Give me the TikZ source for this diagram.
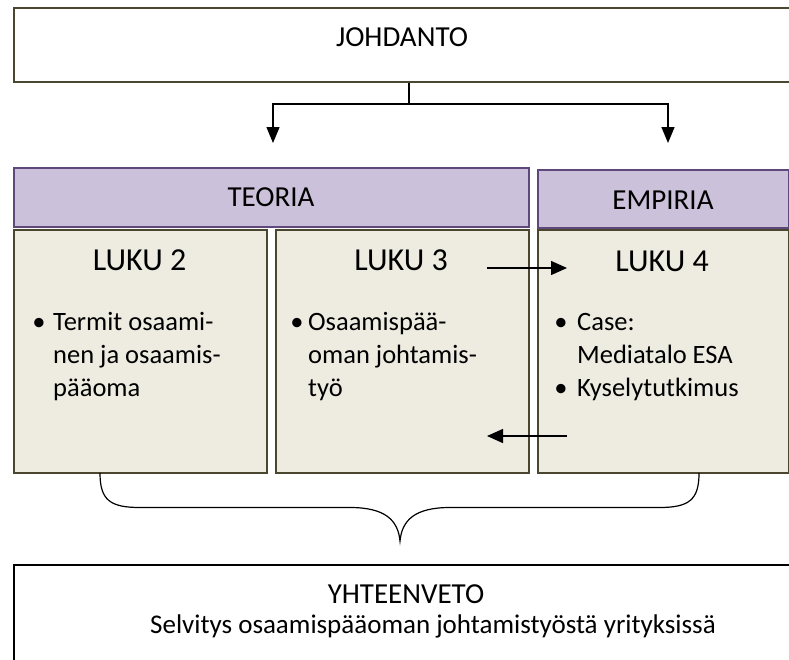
\documentclass[tikz,border=0pt]{standalone}
\usepackage{fontspec}
\setmainfont{Carlito}
\usetikzlibrary{arrows.meta}
\definecolor{bordolive}{HTML}{4A4630}
\definecolor{beigefill}{HTML}{EEECE1}
\definecolor{purpfill}{HTML}{CCC1DA}
\definecolor{purpbord}{HTML}{5F497A}
\begin{document}
\begin{tikzpicture}[x=1pt,y=-1pt,
  frame/.style={draw=bordolive, line width=1.8pt, inner sep=0pt, anchor=north west},
  whitebox/.style={frame, fill=white},
  lukubox/.style={frame, fill=beigefill},
  headbox/.style={draw=purpbord, line width=1.8pt, fill=purpfill, inner sep=0pt, anchor=north west},
  endbox/.style={draw=black, line width=1.8pt, fill=white, inner sep=0pt, anchor=north west},
  conn/.style={line width=1.4pt, -{Triangle[length=16pt,width=13pt]}},
  sideconn/.style={line width=1.4pt, -{Triangle[length=16pt,width=14pt]}},
  bigtxt/.style={font=\fontsize{29}{35}\selectfont, inner sep=0pt, anchor=base},
  lukutxt/.style={font=\fontsize{32}{38}\selectfont, inner sep=0pt, anchor=base},
  bodytxt/.style={font=\fontsize{26.5}{33}\selectfont, inner sep=0pt, anchor=base west},
  bullettxt/.style={font=\fontsize{26.5}{33}\selectfont, inner sep=0pt, anchor=base},
]
\clip (0,0) rectangle (789,659);
\fill[white] (0,0) rectangle (789,659);

% top box
\node[whitebox, minimum width=790pt, minimum height=74pt] (joh) at (13,7) {};
\node[bigtxt] (johtxt) at (402,46.5) {JOHDANTO};

% header boxes
\node[headbox, minimum width=515pt, minimum height=59pt] (teo) at (13,167) {};
\node[bigtxt] (teotxt) at (271,206.5) {TEORIA};
\node[headbox, minimum width=251pt, minimum height=58pt] (emp) at (537,169) {};
\node[bigtxt] (emptxt) at (663,209) {EMPIRIA};

% chapter boxes
\node[lukubox, minimum width=253pt, minimum height=243pt] (l2) at (13,229) {};
\node[lukubox, minimum width=253pt, minimum height=243pt] (l3) at (275,229) {};
\node[lukubox, minimum width=251pt, minimum height=243pt] (l4) at (537,229) {};

\node[lukutxt] (l2h) at (139.5,270) {LUKU 2};
\node[lukutxt] (l3h) at (401,270) {LUKU 3};
\node[lukutxt] (l4h) at (662,271.5) {LUKU 4};

\node[bullettxt] (b2) at (39,330) {•};
\node[bodytxt] (t2a) at (53,330) {Termit osaami-};
\node[bodytxt] (t2b) at (53,363) {nen ja osaamis-};
\node[bodytxt] (t2c) at (53,396) {pääoma};

\node[bullettxt] (b3) at (297,330) {•};
\node[bodytxt] (t3a) at (308,330) {Osaamispää-};
\node[bodytxt] (t3b) at (308,363) {oman johtamis-};
\node[bodytxt] (t3c) at (308,396) {työ};

\node[bullettxt] (b4a) at (561,330) {•};
\node[bodytxt] (t4a) at (577,330) {Case:};
\node[bodytxt] (t4b) at (577,363) {Mediatalo ESA};
\node[bullettxt] (b4b) at (561,396) {•};
\node[bodytxt] (t4c) at (577,396) {Kyselytutkimus};

% arrows between chapters
\coordinate (a1s) at (487,268);
\coordinate (a1e) at (567,268);
\coordinate (a2s) at (567,436);
\coordinate (a2e) at (487,436);
\draw[sideconn] (a1s) -- (a1e);
\draw[sideconn] (a2s) -- (a2e);

% split arrows from top box
\coordinate (sp) at (409,104);
\coordinate (tl) at (273,143);
\coordinate (tr) at (668,143);
\draw[line width=1.4pt] (joh.south -| sp) -- (sp);
\draw[conn] (sp) -| (tl);
\draw[conn] (sp) -| (tr);

% brace
\coordinate (brl) at (100,473);
\coordinate (brr) at (699,473);
\coordinate (brt) at (400,541);
\draw[line width=1.2pt] (brl) .. controls (100,500) and (110,507.5) .. (140,507.5)
  -- (350,507.5) .. controls (385,507.5) and (398,520) .. (brt)
  .. controls (402,520) and (415,507.5) .. (450,507.5)
  -- (659,507.5) .. controls (689,507.5) and (699,500) .. (brr);

% bottom box
\node[endbox, minimum width=790pt, minimum height=110pt] (yht) at (13,564) {};
\node[bigtxt] (yhttxt) at (406,603.5) {YHTEENVETO};
\node[bigtxt, font=\fontsize{27}{33}\selectfont] (yhtsub) at (433,633.5) {Selvitys osaamispääoman johtamistyöstä yrityksissä};
\end{tikzpicture}
\end{document}
